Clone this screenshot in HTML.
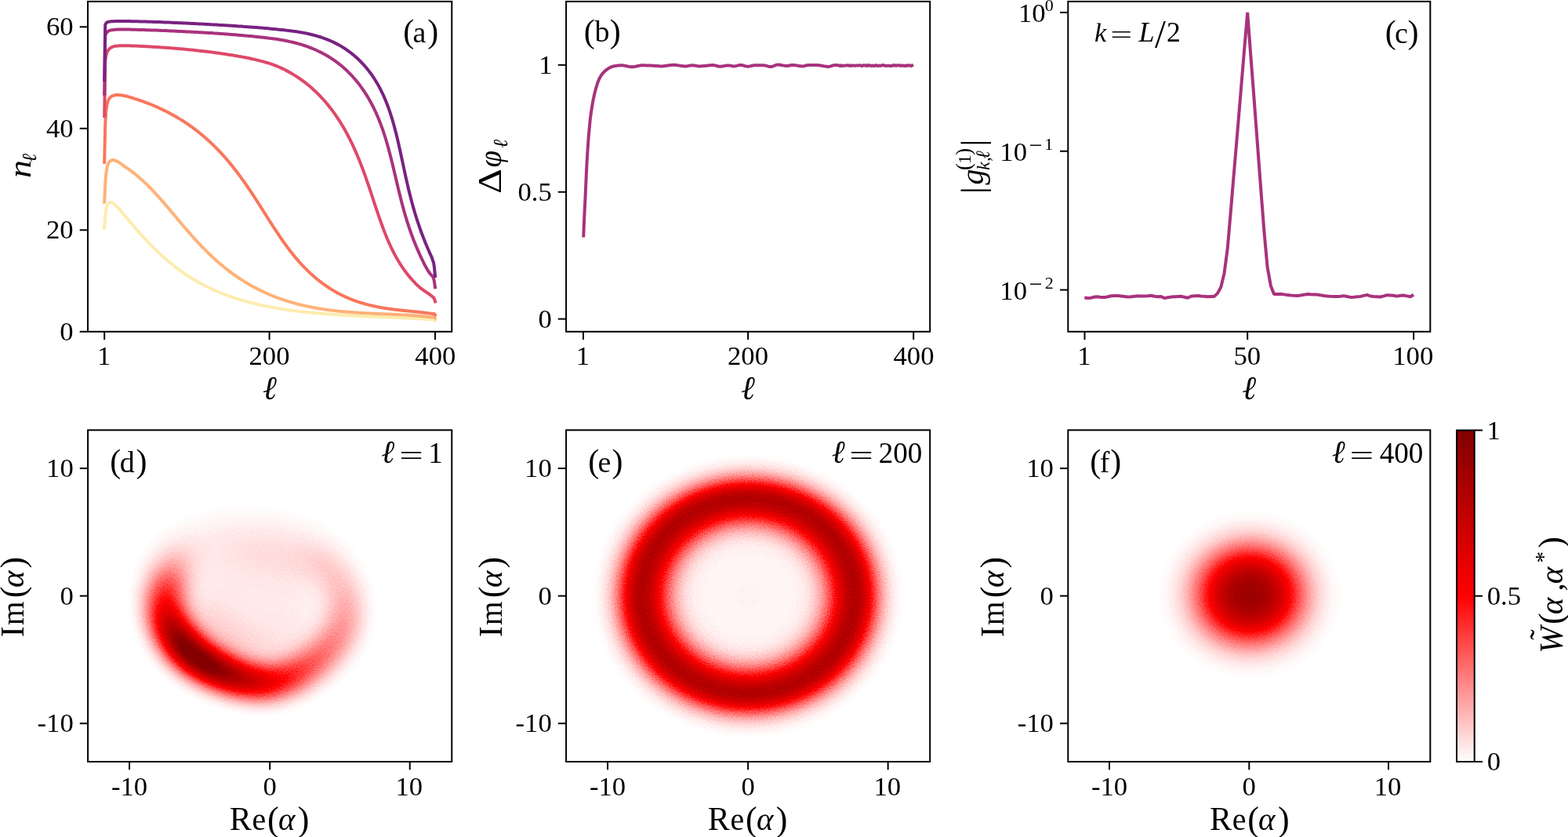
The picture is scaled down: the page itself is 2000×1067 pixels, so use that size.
<!DOCTYPE html>
<html lang="en"><head><meta charset="utf-8"><title>Figure</title>
<style>
html,body{margin:0;padding:0;background:#fff}
body{width:2000px;height:1067px;position:relative;overflow:hidden}
body>svg{position:absolute;left:0;top:0;display:block}
text{font-family:"Liberation Serif",serif;fill:#000;white-space:pre}
.i{font-style:italic}
.c{fill:none;stroke-width:4.00;stroke-linejoin:round;stroke-linecap:square}
.ax{fill:none;stroke:#000;stroke-width:2.00;stroke-linecap:butt;stroke-linejoin:miter}
</style></head><body>
<svg width="2000" height="1067" viewBox="0 0 2000 1067">
<defs>
<filter id="cmapE" color-interpolation-filters="sRGB" x="0" y="0" width="100%" height="100%">
<feColorMatrix in="SourceGraphic" type="matrix" values="1 0 0 0 0  1 0 0 0 0  1 0 0 0 0  0 0 0 0 1" result="g0"/>
<feTurbulence type="fractalNoise" baseFrequency="0.66 0.62" numOctaves="1" seed="11" result="nz"/>
<feColorMatrix in="nz" type="matrix" values="3 0 0 0 -1  3 0 0 0 -1  3 0 0 0 -1  0 0 0 0 1" result="n"/>
<feComponentTransfer in="g0" result="s"><feFuncR type="gamma" exponent="0.5"/><feFuncG type="gamma" exponent="0.5"/><feFuncB type="gamma" exponent="0.5"/></feComponentTransfer>
<feComposite in="g0" in2="s" operator="arithmetic" k1="0" k2="1" k3="-0.08" k4="0" result="w"/>
<feComposite in="s" in2="n" operator="arithmetic" k1="1" k2="0" k3="0" k4="0" result="u"/>
<feComposite in="w" in2="u" operator="arithmetic" k1="0" k2="1" k3="0.16" k4="0" result="v"/>
<feComponentTransfer in="v">
<feFuncR type="table" tableValues="1 1 1 0.75 0.5"/>
<feFuncG type="table" tableValues="1 0.5 0 0 0"/>
<feFuncB type="table" tableValues="1 0.5 0 0 0"/>
</feComponentTransfer>
</filter>
<filter id="cmapF" color-interpolation-filters="sRGB" x="0" y="0" width="100%" height="100%">
<feColorMatrix in="SourceGraphic" type="matrix" values="1 0 0 0 0  1 0 0 0 0  1 0 0 0 0  0 0 0 0 1" result="g0"/>
<feTurbulence type="fractalNoise" baseFrequency="0.6 0.56" numOctaves="1" seed="4" result="nz"/>
<feColorMatrix in="nz" type="matrix" values="2.6 0 0 0 -0.8  2.6 0 0 0 -0.8  2.6 0 0 0 -0.8  0 0 0 0 1" result="n"/>
<feComponentTransfer in="g0" result="s"><feFuncR type="gamma" exponent="0.5"/><feFuncG type="gamma" exponent="0.5"/><feFuncB type="gamma" exponent="0.5"/></feComponentTransfer>
<feComposite in="g0" in2="s" operator="arithmetic" k1="0" k2="1" k3="-0.05" k4="0" result="w"/>
<feComposite in="s" in2="n" operator="arithmetic" k1="1" k2="0" k3="0" k4="0" result="u"/>
<feComposite in="w" in2="u" operator="arithmetic" k1="0" k2="1" k3="0.1" k4="0" result="v"/>
<feComponentTransfer in="v">
<feFuncR type="table" tableValues="1 1 1 0.75 0.5"/>
<feFuncG type="table" tableValues="1 0.5 0 0 0"/>
<feFuncB type="table" tableValues="1 0.5 0 0 0"/>
</feComponentTransfer>
</filter>
<filter id="cmapD" color-interpolation-filters="sRGB" x="0" y="0" width="100%" height="100%">
<feColorMatrix in="SourceGraphic" type="matrix" values="1 0 0 0 0  1 0 0 0 0  1 0 0 0 0  0 0 0 0 1" result="cr"/>
<feGaussianBlur in="cr" stdDeviation="14.28 13.01" result="br"/>
<feColorMatrix in="SourceGraphic" type="matrix" values="0 1 0 0 0  0 1 0 0 0  0 1 0 0 0  0 0 0 0 1" result="cg"/>
<feGaussianBlur in="cg" stdDeviation="23.21 21.14" result="bg"/>
<feComposite in="br" in2="bg" operator="arithmetic" k1="0" k2="1.30" k3="0.50" k4="-0.008" result="g1"/>
<feColorMatrix in="g1" type="matrix" values="1 0 0 0 0  1 0 0 0 0  1 0 0 0 0  0 0 0 0 1" result="g0"/>
<feTurbulence type="fractalNoise" baseFrequency="0.63 0.59" numOctaves="1" seed="7" result="nz"/>
<feColorMatrix in="nz" type="matrix" values="2.8 0 0 0 -0.9  2.8 0 0 0 -0.9  2.8 0 0 0 -0.9  0 0 0 0 1" result="n"/>
<feComponentTransfer in="g0" result="s"><feFuncR type="gamma" exponent="0.5"/><feFuncG type="gamma" exponent="0.5"/><feFuncB type="gamma" exponent="0.5"/></feComponentTransfer>
<feComposite in="g0" in2="s" operator="arithmetic" k1="0" k2="1" k3="-0.065" k4="0" result="w"/>
<feComposite in="s" in2="n" operator="arithmetic" k1="1" k2="0" k3="0" k4="0" result="u"/>
<feComposite in="w" in2="u" operator="arithmetic" k1="0" k2="1" k3="0.13" k4="0" result="v"/>
<feComponentTransfer in="v">
<feFuncR type="table" tableValues="1 1 1 0.75 0.5"/>
<feFuncG type="table" tableValues="1 0.5 0 0 0"/>
<feFuncB type="table" tableValues="1 0.5 0 0 0"/>
</feComponentTransfer>
</filter>
<linearGradient id="cbar" x1="0" y1="1" x2="0" y2="0"><stop offset="0" stop-color="#fff"/><stop offset="0.5" stop-color="#f00"/><stop offset="1" stop-color="#800000"/></linearGradient>
<radialGradient id="gE" gradientUnits="userSpaceOnUse" cx="0" cy="0" r="13"><stop offset="0.0000" stop-color="#060606"/><stop offset="0.0125" stop-color="#060606"/><stop offset="0.0250" stop-color="#060606"/><stop offset="0.0375" stop-color="#060606"/><stop offset="0.0500" stop-color="#060606"/><stop offset="0.0625" stop-color="#060606"/><stop offset="0.0750" stop-color="#050505"/><stop offset="0.0875" stop-color="#050505"/><stop offset="0.1000" stop-color="#050505"/><stop offset="0.1125" stop-color="#050505"/><stop offset="0.1250" stop-color="#050505"/><stop offset="0.1375" stop-color="#050505"/><stop offset="0.1500" stop-color="#050505"/><stop offset="0.1625" stop-color="#050505"/><stop offset="0.1750" stop-color="#050505"/><stop offset="0.1875" stop-color="#050505"/><stop offset="0.2000" stop-color="#050505"/><stop offset="0.2125" stop-color="#050505"/><stop offset="0.2250" stop-color="#050505"/><stop offset="0.2375" stop-color="#050505"/><stop offset="0.2500" stop-color="#060606"/><stop offset="0.2625" stop-color="#060606"/><stop offset="0.2750" stop-color="#070707"/><stop offset="0.2875" stop-color="#080808"/><stop offset="0.3000" stop-color="#090909"/><stop offset="0.3125" stop-color="#0b0b0b"/><stop offset="0.3250" stop-color="#0d0d0d"/><stop offset="0.3375" stop-color="#101010"/><stop offset="0.3500" stop-color="#141414"/><stop offset="0.3625" stop-color="#191919"/><stop offset="0.3750" stop-color="#1f1f1f"/><stop offset="0.3875" stop-color="#262626"/><stop offset="0.4000" stop-color="#2e2e2e"/><stop offset="0.4125" stop-color="#373737"/><stop offset="0.4250" stop-color="#424242"/><stop offset="0.4375" stop-color="#4e4e4e"/><stop offset="0.4500" stop-color="#5a5a5a"/><stop offset="0.4625" stop-color="#686868"/><stop offset="0.4750" stop-color="#767676"/><stop offset="0.4875" stop-color="#848484"/><stop offset="0.5000" stop-color="#929292"/><stop offset="0.5125" stop-color="#9f9f9f"/><stop offset="0.5250" stop-color="#acacac"/><stop offset="0.5375" stop-color="#b7b7b7"/><stop offset="0.5500" stop-color="#c0c0c0"/><stop offset="0.5625" stop-color="#c6c6c6"/><stop offset="0.5750" stop-color="#cbcbcb"/><stop offset="0.5875" stop-color="#cccccc"/><stop offset="0.6000" stop-color="#cbcbcb"/><stop offset="0.6125" stop-color="#c5c5c5"/><stop offset="0.6250" stop-color="#bcbcbc"/><stop offset="0.6375" stop-color="#afafaf"/><stop offset="0.6500" stop-color="#a0a0a0"/><stop offset="0.6625" stop-color="#909090"/><stop offset="0.6750" stop-color="#7e7e7e"/><stop offset="0.6875" stop-color="#6c6c6c"/><stop offset="0.7000" stop-color="#5b5b5b"/><stop offset="0.7125" stop-color="#4b4b4b"/><stop offset="0.7250" stop-color="#3d3d3d"/><stop offset="0.7375" stop-color="#303030"/><stop offset="0.7500" stop-color="#252525"/><stop offset="0.7625" stop-color="#1c1c1c"/><stop offset="0.7750" stop-color="#151515"/><stop offset="0.7875" stop-color="#0f0f0f"/><stop offset="0.8000" stop-color="#0a0a0a"/><stop offset="0.8125" stop-color="#070707"/><stop offset="0.8250" stop-color="#040404"/><stop offset="0.8375" stop-color="#020202"/><stop offset="0.8500" stop-color="#010101"/><stop offset="0.8625" stop-color="#000000"/><stop offset="0.8750" stop-color="#000000"/><stop offset="0.8875" stop-color="#000000"/><stop offset="0.9000" stop-color="#000000"/><stop offset="0.9125" stop-color="#000000"/><stop offset="0.9250" stop-color="#000000"/><stop offset="0.9375" stop-color="#000000"/><stop offset="0.9500" stop-color="#000000"/><stop offset="0.9625" stop-color="#000000"/><stop offset="0.9750" stop-color="#000000"/><stop offset="0.9875" stop-color="#000000"/><stop offset="1.0000" stop-color="#000000"/></radialGradient>
<radialGradient id="gF" gradientUnits="userSpaceOnUse" cx="0" cy="0" r="13"><stop offset="0.0000" stop-color="#e1e1e1"/><stop offset="0.0156" stop-color="#e1e1e1"/><stop offset="0.0312" stop-color="#e0e0e0"/><stop offset="0.0469" stop-color="#dfdfdf"/><stop offset="0.0625" stop-color="#dcdcdc"/><stop offset="0.0781" stop-color="#d9d9d9"/><stop offset="0.0938" stop-color="#d4d4d4"/><stop offset="0.1094" stop-color="#cecece"/><stop offset="0.1250" stop-color="#c7c7c7"/><stop offset="0.1406" stop-color="#bebebe"/><stop offset="0.1562" stop-color="#b4b4b4"/><stop offset="0.1719" stop-color="#aaaaaa"/><stop offset="0.1875" stop-color="#9e9e9e"/><stop offset="0.2031" stop-color="#919191"/><stop offset="0.2188" stop-color="#858585"/><stop offset="0.2344" stop-color="#777777"/><stop offset="0.2500" stop-color="#6a6a6a"/><stop offset="0.2656" stop-color="#5d5d5d"/><stop offset="0.2812" stop-color="#515151"/><stop offset="0.2969" stop-color="#454545"/><stop offset="0.3125" stop-color="#3b3b3b"/><stop offset="0.3281" stop-color="#313131"/><stop offset="0.3438" stop-color="#282828"/><stop offset="0.3594" stop-color="#202020"/><stop offset="0.3750" stop-color="#191919"/><stop offset="0.3906" stop-color="#131313"/><stop offset="0.4062" stop-color="#0f0f0f"/><stop offset="0.4219" stop-color="#0b0b0b"/><stop offset="0.4375" stop-color="#080808"/><stop offset="0.4531" stop-color="#050505"/><stop offset="0.4688" stop-color="#030303"/><stop offset="0.4844" stop-color="#020202"/><stop offset="0.5000" stop-color="#010101"/><stop offset="0.5156" stop-color="#000000"/><stop offset="0.5312" stop-color="#000000"/><stop offset="0.5469" stop-color="#000000"/><stop offset="0.5625" stop-color="#000000"/><stop offset="0.5781" stop-color="#000000"/><stop offset="0.5938" stop-color="#000000"/><stop offset="0.6094" stop-color="#000000"/><stop offset="0.6250" stop-color="#000000"/><stop offset="0.6406" stop-color="#000000"/><stop offset="0.6562" stop-color="#000000"/><stop offset="0.6719" stop-color="#000000"/><stop offset="0.6875" stop-color="#000000"/><stop offset="0.7031" stop-color="#000000"/><stop offset="0.7188" stop-color="#000000"/><stop offset="0.7344" stop-color="#000000"/><stop offset="0.7500" stop-color="#000000"/><stop offset="0.7656" stop-color="#000000"/><stop offset="0.7812" stop-color="#000000"/><stop offset="0.7969" stop-color="#000000"/><stop offset="0.8125" stop-color="#000000"/><stop offset="0.8281" stop-color="#000000"/><stop offset="0.8438" stop-color="#000000"/><stop offset="0.8594" stop-color="#000000"/><stop offset="0.8750" stop-color="#000000"/><stop offset="0.8906" stop-color="#000000"/><stop offset="0.9062" stop-color="#000000"/><stop offset="0.9219" stop-color="#000000"/><stop offset="0.9375" stop-color="#000000"/><stop offset="0.9531" stop-color="#000000"/><stop offset="0.9688" stop-color="#000000"/><stop offset="0.9844" stop-color="#000000"/><stop offset="1.0000" stop-color="#000000"/></radialGradient>
</defs>
<svg x="112.10" y="548.30" width="464.20" height="422.70" viewBox="112.10 548.30 464.20 422.70" overflow="hidden"><g filter="url(#cmapD)"><rect x="42.10" y="478.30" width="604.20" height="562.70" fill="#000"/><g transform="translate(344.200,759.650) scale(17.8538,-16.2577)"><g fill="none" stroke-width="2.00" style="mix-blend-mode:screen"><path d="M-5.36,4.50L-5.77,4.14" stroke="#010000"/><path d="M-5.74,4.17L-6.10,3.77" stroke="#050000"/><path d="M-6.08,3.80L-6.40,3.36" stroke="#0a0000"/><path d="M-6.38,3.39L-6.66,2.92" stroke="#100000"/><path d="M-6.64,2.96L-6.87,2.46" stroke="#190000"/><path d="M-6.86,2.50L-7.05,1.98" stroke="#250000"/><path d="M-7.04,2.02L-7.19,1.49" stroke="#380000"/><path d="M-7.18,1.53L-7.32,0.99" stroke="#4a0000"/><path d="M-7.31,1.03L-7.44,0.48" stroke="#580000"/><path d="M-7.43,0.52L-7.52,-0.04" stroke="#660000"/><path d="M-7.52,0.00L-7.56,-0.57" stroke="#730000"/><path d="M-7.56,-0.53L-7.52,-1.10" stroke="#810000"/><path d="M-7.53,-1.06L-7.41,-1.62" stroke="#910000"/><path d="M-7.42,-1.58L-7.24,-2.12" stroke="#a40000"/><path d="M-7.26,-2.08L-7.03,-2.60" stroke="#b70000"/><path d="M-7.05,-2.57L-6.79,-3.07" stroke="#c80000"/><path d="M-6.81,-3.03L-6.52,-3.51" stroke="#d80000"/><path d="M-6.54,-3.48L-6.20,-3.92" stroke="#e80000"/><path d="M-6.23,-3.89L-5.87,-4.31" stroke="#f30000"/><path d="M-5.90,-4.28L-5.52,-4.68" stroke="#f60000"/><path d="M-5.54,-4.65L-5.14,-5.01" stroke="#f80000"/><path d="M-5.17,-4.99L-4.73,-5.31" stroke="#f80000"/><path d="M-4.76,-5.29L-4.29,-5.55" stroke="#f20000"/><path d="M-4.32,-5.53L-3.86,-5.79" stroke="#e80000"/><path d="M-3.89,-5.77L-3.44,-6.02" stroke="#dd0000"/><path d="M-3.47,-6.01L-3.00,-6.24" stroke="#d30000"/><path d="M-3.04,-6.22L-2.56,-6.43" stroke="#c70000"/><path d="M-2.59,-6.41L-2.10,-6.58" stroke="#bc0000"/><path d="M-2.13,-6.57L-1.63,-6.70" stroke="#b10000"/><path d="M-1.67,-6.69L-1.16,-6.79" stroke="#a70000"/><path d="M-1.20,-6.78L-0.68,-6.84" stroke="#9e0000"/><path d="M-0.72,-6.84L-0.20,-6.86" stroke="#950000"/><path d="M-0.24,-6.86L0.27,-6.83" stroke="#8b0000"/><path d="M0.24,-6.84L0.74,-6.71" stroke="#810000"/><path d="M0.71,-6.72L1.18,-6.52" stroke="#750000"/><path d="M1.15,-6.54L1.61,-6.31" stroke="#6b0000"/><path d="M1.58,-6.33L2.01,-6.08" stroke="#620000"/><path d="M1.98,-6.10L2.39,-5.83" stroke="#5b0000"/><path d="M2.36,-5.85L2.74,-5.55" stroke="#540000"/><path d="M2.72,-5.57L3.08,-5.28" stroke="#4e0000"/><path d="M3.06,-5.30L3.41,-5.00" stroke="#4a0000"/><path d="M3.39,-5.02L3.72,-4.71" stroke="#460000"/><path d="M3.70,-4.73L4.01,-4.41" stroke="#420000"/><path d="M3.99,-4.43L4.28,-4.09" stroke="#3f0000"/><path d="M4.26,-4.11L4.52,-3.75" stroke="#3c0000"/><path d="M4.51,-3.78L4.74,-3.41" stroke="#3a0000"/><path d="M4.72,-3.43L4.93,-3.05" stroke="#370000"/><path d="M4.92,-3.07L5.10,-2.68" stroke="#350000"/><path d="M5.09,-2.70L5.23,-2.30" stroke="#330000"/><path d="M5.22,-2.33L5.34,-1.91" stroke="#310000"/><path d="M5.33,-1.94L5.41,-1.52" stroke="#2f0000"/><path d="M5.41,-1.55L5.44,-1.13" stroke="#2d0000"/><path d="M5.44,-1.16L5.44,-0.74" stroke="#2a0000"/><path d="M5.44,-0.76L5.41,-0.35" stroke="#270000"/><path d="M5.41,-0.38L5.34,0.03" stroke="#240000"/><path d="M5.35,-0.00L5.25,0.40" stroke="#220000"/><path d="M5.26,0.37L5.14,0.75" stroke="#1f0000"/><path d="M5.15,0.72L4.99,1.09" stroke="#1c0000"/><path d="M5.01,1.06L4.83,1.41" stroke="#1a0000"/><path d="M4.84,1.39L4.64,1.72" stroke="#180000"/><path d="M4.65,1.69L4.42,2.00" stroke="#150000"/><path d="M4.44,1.98L4.19,2.26" stroke="#130000"/><path d="M4.21,2.24L3.94,2.49" stroke="#110000"/><path d="M3.96,2.47L3.69,2.71" stroke="#100000"/><path d="M3.70,2.69L3.43,2.91" stroke="#0e0000"/><path d="M3.45,2.89L3.17,3.09" stroke="#0b0000"/><path d="M3.19,3.08L2.90,3.25" stroke="#090000"/><path d="M2.92,3.24L2.63,3.40" stroke="#070000"/><path d="M2.65,3.39L2.36,3.53" stroke="#040000"/><path d="M2.38,3.52L2.08,3.65" stroke="#010000"/></g><g fill="none" stroke-width="3.25" style="mix-blend-mode:screen"><path d="M4.92,0.87L4.72,1.20" stroke="#000300"/><path d="M4.74,1.18L4.52,1.50" stroke="#000900"/><path d="M4.54,1.48L4.32,1.77" stroke="#000f00"/><path d="M4.33,1.75L4.10,2.03" stroke="#001400"/><path d="M4.12,2.01L3.88,2.27" stroke="#001800"/><path d="M3.90,2.25L3.65,2.49" stroke="#001c00"/><path d="M3.67,2.48L3.42,2.70" stroke="#001f00"/><path d="M3.44,2.68L3.18,2.89" stroke="#002200"/><path d="M3.20,2.88L2.93,3.07" stroke="#002500"/><path d="M2.95,3.05L2.68,3.23" stroke="#002700"/><path d="M2.70,3.22L2.42,3.37" stroke="#002700"/><path d="M2.44,3.36L2.16,3.49" stroke="#002700"/><path d="M2.18,3.49L1.89,3.60" stroke="#002700"/><path d="M1.91,3.59L1.62,3.69" stroke="#002700"/><path d="M1.64,3.68L1.35,3.77" stroke="#002700"/><path d="M1.37,3.77L1.08,3.85" stroke="#002700"/><path d="M1.10,3.85L0.81,3.93" stroke="#002700"/><path d="M0.83,3.92L0.54,3.99" stroke="#002700"/><path d="M0.56,3.99L0.26,4.06" stroke="#002600"/><path d="M0.28,4.05L-0.02,4.11" stroke="#002600"/><path d="M0.00,4.11L-0.31,4.15" stroke="#002500"/><path d="M-0.29,4.15L-0.61,4.18" stroke="#002500"/><path d="M-0.59,4.18L-0.91,4.19" stroke="#002400"/><path d="M-0.89,4.19L-1.23,4.20" stroke="#002300"/><path d="M-1.20,4.20L-1.56,4.22" stroke="#002300"/><path d="M-1.54,4.22L-1.92,4.25" stroke="#002200"/><path d="M-1.89,4.25L-2.30,4.27" stroke="#002100"/><path d="M-2.27,4.27L-2.70,4.27" stroke="#002100"/><path d="M-2.67,4.27L-3.12,4.25" stroke="#002000"/><path d="M-3.09,4.25L-3.60,4.25" stroke="#002000"/><path d="M-3.57,4.25L-4.12,4.22" stroke="#002000"/><path d="M-4.08,4.23L-4.63,4.12" stroke="#002000"/><path d="M-4.59,4.14L-5.08,3.92" stroke="#002000"/><path d="M-5.04,3.94L-5.49,3.66" stroke="#002000"/><path d="M-5.46,3.68L-5.87,3.35" stroke="#001f00"/><path d="M-5.84,3.37L-6.20,2.98" stroke="#001e00"/><path d="M-6.18,3.01L-6.49,2.58" stroke="#001d00"/><path d="M-6.47,2.61L-6.73,2.15" stroke="#001b00"/><path d="M-6.71,2.18L-6.94,1.69" stroke="#001800"/><path d="M-6.92,1.73L-7.10,1.21" stroke="#001500"/><path d="M-7.09,1.25L-7.23,0.72" stroke="#001200"/><path d="M-7.22,0.76L-7.32,0.22" stroke="#000d00"/><path d="M-7.31,0.26L-7.37,-0.30" stroke="#000800"/><path d="M-7.36,-0.26L-7.37,-0.68" stroke="#000200"/></g><g fill="none" stroke-width="3.25" style="mix-blend-mode:screen"><path d="M-5.81,1.02L-5.92,0.59" stroke="#000400"/><path d="M-5.91,0.62L-5.97,0.18" stroke="#000b00"/><path d="M-5.97,0.21L-5.99,-0.24" stroke="#001200"/><path d="M-5.99,-0.21L-5.96,-0.66" stroke="#001900"/><path d="M-5.97,-0.63L-5.90,-1.07" stroke="#002000"/><path d="M-5.91,-1.04L-5.79,-1.48" stroke="#002800"/><path d="M-5.80,-1.45L-5.64,-1.87" stroke="#003000"/><path d="M-5.65,-1.84L-5.46,-2.24" stroke="#003600"/><path d="M-5.48,-2.21L-5.26,-2.60" stroke="#003b00"/><path d="M-5.28,-2.57L-5.03,-2.94" stroke="#003f00"/><path d="M-5.05,-2.92L-4.78,-3.26" stroke="#004300"/><path d="M-4.80,-3.23L-4.50,-3.55" stroke="#004600"/><path d="M-4.52,-3.53L-4.20,-3.83" stroke="#004700"/><path d="M-4.23,-3.81L-3.89,-4.07" stroke="#004700"/><path d="M-3.91,-4.05L-3.56,-4.29" stroke="#004500"/><path d="M-3.59,-4.27L-3.22,-4.49" stroke="#004300"/><path d="M-3.25,-4.47L-2.89,-4.67" stroke="#004100"/><path d="M-2.91,-4.66L-2.54,-4.84" stroke="#003f00"/><path d="M-2.57,-4.83L-2.19,-4.99" stroke="#003c00"/><path d="M-2.22,-4.97L-1.83,-5.11" stroke="#003900"/><path d="M-1.86,-5.10L-1.46,-5.20" stroke="#003600"/><path d="M-1.49,-5.20L-1.09,-5.27" stroke="#003300"/><path d="M-1.12,-5.27L-0.72,-5.31" stroke="#003000"/><path d="M-0.75,-5.31L-0.34,-5.32" stroke="#002c00"/><path d="M-0.37,-5.32L0.03,-5.31" stroke="#002900"/><path d="M-0.00,-5.31L0.39,-5.25" stroke="#002600"/><path d="M0.37,-5.25L0.75,-5.15" stroke="#002300"/><path d="M0.72,-5.16L1.09,-5.01" stroke="#002000"/><path d="M1.07,-5.02L1.42,-4.86" stroke="#001d00"/><path d="M1.40,-4.87L1.73,-4.69" stroke="#001b00"/><path d="M1.71,-4.70L2.03,-4.50" stroke="#001900"/><path d="M2.01,-4.51L2.31,-4.30" stroke="#001700"/><path d="M2.29,-4.31L2.58,-4.08" stroke="#001500"/><path d="M2.56,-4.10L2.82,-3.84" stroke="#001400"/><path d="M2.81,-3.86L3.05,-3.60" stroke="#001200"/><path d="M3.04,-3.62L3.26,-3.34" stroke="#001100"/><path d="M3.24,-3.36L3.45,-3.07" stroke="#000f00"/><path d="M3.44,-3.09L3.62,-2.80" stroke="#000d00"/><path d="M3.61,-2.82L3.77,-2.51" stroke="#000b00"/><path d="M3.76,-2.54L3.90,-2.22" stroke="#000800"/><path d="M3.89,-2.25L4.01,-1.93" stroke="#000600"/><path d="M4.00,-1.95L4.10,-1.63" stroke="#000300"/></g><circle cx="-0.70" cy="-0.40" r="4.20" fill="#001800" style="mix-blend-mode:screen"/></g></g></svg>
<svg x="722.10" y="548.30" width="464.10" height="422.70" viewBox="722.10 548.30 464.10 422.70" overflow="hidden"><g filter="url(#cmapE)"><rect x="652.10" y="478.30" width="604.10" height="562.70" fill="#000"/><g transform="translate(954.150,759.650) scale(17.8500,-16.2577)"><circle cx="0" cy="0" r="13" fill="url(#gE)"/></g></g></svg>
<svg x="1362.30" y="548.30" width="462.00" height="422.70" viewBox="1362.30 548.30 462.00 422.70" overflow="hidden"><g filter="url(#cmapF)"><rect x="1292.30" y="478.30" width="602.00" height="562.70" fill="#000"/><g transform="translate(1593.833,758.024) scale(17.7692,-16.2577)"><circle cx="0" cy="0" r="13" fill="url(#gF)"/></g></g></svg>
<path class="c" stroke="#fcecae" d="M133.1,290.7L134.2,276.0L134.7,270.7L135.2,267.0L135.7,265.0L136.2,263.3L136.7,261.9L137.2,260.8L137.7,260.0L138.2,259.5L138.7,259.2L139.2,258.9L139.7,258.6L140.2,258.4L140.7,258.2L141.2,258.1L141.7,258.0L142.2,258.0L142.7,258.1L143.2,258.3L143.7,258.6L144.2,259.0L144.7,259.4L145.2,259.9L145.7,260.3L146.2,260.8L146.7,261.2L147.2,261.6L147.7,262.0L148.2,262.5L148.7,263.0L149.2,263.5L149.7,264.0L150.2,264.5L150.7,265.0L151.2,265.6L151.7,266.1L152.2,266.7L152.7,267.2L153.2,267.8L153.7,268.4L154.2,269.0L154.7,269.6L155.2,270.2L155.7,270.8L156.2,271.4L156.7,272.0L157.2,272.6L157.7,273.2L158.2,273.8L158.7,274.3L159.2,274.9L159.7,275.5L160.0,275.9L162.0,278.3L164.0,280.6L166.0,283.0L168.0,285.3L170.0,287.7L172.0,290.0L174.0,292.3L176.0,294.6L178.0,296.8L180.0,299.0L182.0,301.2L184.0,303.4L186.0,305.6L188.0,307.7L190.0,309.8L192.0,311.9L194.0,313.9L196.0,315.9L198.0,317.9L200.0,319.8L202.0,321.7L204.0,323.6L206.0,325.5L208.0,327.3L210.0,329.0L212.0,330.8L214.0,332.5L216.0,334.2L218.0,335.8L220.0,337.4L222.0,339.0L224.0,340.6L226.0,342.1L228.0,343.6L230.0,345.0L232.0,346.5L234.0,347.9L236.0,349.2L238.0,350.6L240.0,351.9L242.0,353.2L244.0,354.4L246.0,355.6L248.0,356.8L250.0,358.0L252.0,359.2L254.0,360.3L256.0,361.4L258.0,362.4L260.0,363.5L262.0,364.5L264.0,365.5L266.0,366.5L268.0,367.4L270.0,368.4L272.0,369.3L274.0,370.2L276.0,371.0L278.0,371.9L280.0,372.7L282.0,373.5L284.0,374.3L286.0,375.1L288.0,375.9L290.0,376.6L292.0,377.3L294.0,378.0L296.0,378.7L298.0,379.4L300.0,380.0L302.0,380.7L304.0,381.3L306.0,381.9L308.0,382.5L310.0,383.1L312.0,383.7L314.0,384.2L316.0,384.8L318.0,385.3L320.0,385.8L322.0,386.3L324.0,386.8L326.0,387.3L328.0,387.8L330.0,388.2L332.0,388.7L334.0,389.1L336.0,389.5L338.0,390.0L340.0,390.4L342.0,390.8L344.0,391.2L346.0,391.5L348.0,391.9L350.0,392.3L352.0,392.6L354.0,393.0L356.0,393.3L358.0,393.6L360.0,394.0L362.0,394.3L364.0,394.6L366.0,394.9L368.0,395.2L370.0,395.4L372.0,395.7L374.0,396.0L376.0,396.3L378.0,396.5L380.0,396.8L382.0,397.0L384.0,397.2L386.0,397.5L388.0,397.7L390.0,397.9L392.0,398.1L394.0,398.3L396.0,398.5L398.0,398.7L400.0,398.9L402.0,399.1L404.0,399.3L406.0,399.5L408.0,399.6L410.0,399.8L412.0,400.0L414.0,400.1L416.0,400.3L418.0,400.4L420.0,400.6L421.0,400.7L422.0,400.7L423.0,400.8L424.0,400.9L425.0,400.9L426.0,401.0L427.0,401.1L428.0,401.1L429.0,401.2L430.0,401.3L431.0,401.3L432.0,401.4L433.0,401.5L434.0,401.5L435.0,401.6L436.0,401.6L437.0,401.7L438.0,401.8L439.0,401.8L440.0,401.9L441.0,401.9L442.0,402.0L443.0,402.0L444.0,402.1L445.0,402.1L446.0,402.2L447.0,402.3L448.0,402.3L449.0,402.4L450.0,402.4L451.0,402.5L452.0,402.5L453.0,402.6L454.0,402.6L455.0,402.7L456.0,402.7L457.0,402.8L458.0,402.8L459.0,402.9L460.0,402.9L461.0,402.9L462.0,403.0L463.0,403.0L464.0,403.1L465.0,403.1L466.0,403.2L467.0,403.2L468.0,403.3L469.0,403.3L470.0,403.4L471.0,403.4L472.0,403.4L473.0,403.5L474.0,403.5L475.0,403.6L476.0,403.6L477.0,403.7L478.0,403.7L479.0,403.7L480.0,403.8L481.0,403.8L482.0,403.9L483.0,403.9L484.0,404.0L485.0,404.0L486.0,404.0L487.0,404.1L488.0,404.1L489.0,404.2L490.0,404.2L491.0,404.3L492.0,404.3L493.0,404.3L494.0,404.4L495.0,404.4L496.0,404.5L497.0,404.5L498.0,404.6L499.0,404.6L500.0,404.6L501.0,404.7L502.0,404.7L503.0,404.8L504.0,404.8L505.0,404.9L506.0,404.9L507.0,404.9L508.0,405.0L509.0,405.0L510.0,405.1L511.0,405.1L512.0,405.2L513.0,405.2L514.0,405.3L515.0,405.3L516.0,405.4L517.0,405.4L518.0,405.5L519.0,405.5L520.0,405.5L521.0,405.6L522.0,405.6L523.0,405.7L524.0,405.7L525.0,405.8L526.0,405.8L527.0,405.9L528.0,406.0L529.0,406.0L530.0,406.1L531.0,406.1L532.0,406.2L533.0,406.2L534.0,406.3L535.0,406.3L536.0,406.4L537.0,406.4L538.0,406.5L539.0,406.6L540.0,406.6L541.0,406.7L542.0,406.7L543.0,406.8L544.0,406.9L545.0,406.9L546.0,407.0L547.0,407.0L548.0,407.1L549.0,407.1L550.0,407.2L551.0,407.2L552.0,407.2L553.0,407.3L553.9,407.3L555.0,408.4"/>
<path class="c" stroke="#feb279" d="M133.1,257.7L134.2,236.0L134.7,227.9L135.2,222.0L135.7,218.3L136.2,215.2L136.7,212.7L137.2,210.9L137.7,209.5L138.2,208.4L138.7,207.4L139.2,206.6L139.7,205.9L140.2,205.4L140.7,205.1L141.2,204.8L141.7,204.6L142.2,204.4L142.7,204.2L143.2,204.1L143.7,204.0L144.2,204.0L144.7,204.0L145.2,204.1L145.7,204.2L146.2,204.4L146.7,204.6L147.2,204.8L147.7,205.0L148.2,205.2L148.7,205.4L149.2,205.7L149.7,205.9L150.2,206.1L150.7,206.4L151.2,206.7L151.7,207.0L152.2,207.3L152.7,207.6L153.2,208.0L153.7,208.3L154.2,208.7L154.7,209.1L155.2,209.4L155.7,209.8L156.2,210.2L156.7,210.6L157.2,211.0L157.7,211.3L158.2,211.7L158.7,212.1L159.2,212.4L159.7,212.8L160.0,213.0L162.0,214.3L164.0,215.7L166.0,217.1L168.0,218.6L170.0,220.1L172.0,221.7L174.0,223.3L176.0,225.0L178.0,226.7L180.0,228.4L182.0,230.2L184.0,232.1L186.0,234.0L188.0,235.9L190.0,237.9L192.0,239.9L194.0,242.0L196.0,244.1L198.0,246.3L200.0,248.4L202.0,250.7L204.0,252.9L206.0,255.2L208.0,257.4L210.0,259.8L212.0,262.1L214.0,264.4L216.0,266.8L218.0,269.2L220.0,271.5L222.0,273.9L224.0,276.3L226.0,278.7L228.0,281.1L230.0,283.5L232.0,285.8L234.0,288.2L236.0,290.5L238.0,292.8L240.0,295.1L242.0,297.4L244.0,299.7L246.0,301.9L248.0,304.2L250.0,306.4L252.0,308.5L254.0,310.7L256.0,312.8L258.0,314.9L260.0,316.9L262.0,318.9L264.0,320.9L266.0,322.9L268.0,324.8L270.0,326.7L272.0,328.6L274.0,330.4L276.0,332.2L278.0,333.9L280.0,335.7L282.0,337.4L284.0,339.0L286.0,340.7L288.0,342.3L290.0,343.8L292.0,345.4L294.0,346.9L296.0,348.4L298.0,349.8L300.0,351.2L302.0,352.6L304.0,354.0L306.0,355.3L308.0,356.6L310.0,357.9L312.0,359.1L314.0,360.3L316.0,361.5L318.0,362.7L320.0,363.8L322.0,364.9L324.0,366.0L326.0,367.1L328.0,368.1L330.0,369.1L332.0,370.1L334.0,371.1L336.0,372.0L338.0,373.0L340.0,373.9L342.0,374.7L344.0,375.6L346.0,376.4L348.0,377.3L350.0,378.0L352.0,378.8L354.0,379.6L356.0,380.3L358.0,381.0L360.0,381.7L362.0,382.4L364.0,383.0L366.0,383.7L368.0,384.3L370.0,384.9L372.0,385.5L374.0,386.1L376.0,386.6L378.0,387.2L380.0,387.7L382.0,388.2L384.0,388.7L386.0,389.2L388.0,389.6L390.0,390.1L392.0,390.5L394.0,390.9L396.0,391.3L398.0,391.7L400.0,392.1L402.0,392.5L404.0,392.8L406.0,393.2L408.0,393.5L410.0,393.8L412.0,394.1L414.0,394.4L416.0,394.7L418.0,395.0L420.0,395.2L421.0,395.4L422.0,395.5L423.0,395.6L424.0,395.8L425.0,395.9L426.0,396.0L427.0,396.1L428.0,396.2L429.0,396.3L430.0,396.4L431.0,396.5L432.0,396.6L433.0,396.8L434.0,396.9L435.0,397.0L436.0,397.0L437.0,397.1L438.0,397.2L439.0,397.3L440.0,397.4L441.0,397.5L442.0,397.6L443.0,397.7L444.0,397.8L445.0,397.8L446.0,397.9L447.0,398.0L448.0,398.1L449.0,398.1L450.0,398.2L451.0,398.3L452.0,398.4L453.0,398.4L454.0,398.5L455.0,398.6L456.0,398.6L457.0,398.7L458.0,398.7L459.0,398.8L460.0,398.9L461.0,398.9L462.0,399.0L463.0,399.0L464.0,399.1L465.0,399.2L466.0,399.2L467.0,399.3L468.0,399.3L469.0,399.4L470.0,399.4L471.0,399.5L472.0,399.5L473.0,399.6L474.0,399.6L475.0,399.7L476.0,399.7L477.0,399.7L478.0,399.8L479.0,399.8L480.0,399.9L481.0,399.9L482.0,400.0L483.0,400.0L484.0,400.0L485.0,400.1L486.0,400.1L487.0,400.2L488.0,400.2L489.0,400.3L490.0,400.3L491.0,400.3L492.0,400.4L493.0,400.4L494.0,400.5L495.0,400.5L496.0,400.5L497.0,400.6L498.0,400.6L499.0,400.7L500.0,400.7L501.0,400.8L502.0,400.8L503.0,400.8L504.0,400.9L505.0,400.9L506.0,401.0L507.0,401.0L508.0,401.1L509.0,401.1L510.0,401.2L511.0,401.2L512.0,401.3L513.0,401.3L514.0,401.4L515.0,401.4L516.0,401.5L517.0,401.5L518.0,401.6L519.0,401.6L520.0,401.7L521.0,401.8L522.0,401.8L523.0,401.9L524.0,402.0L525.0,402.0L526.0,402.1L527.0,402.2L528.0,402.2L529.0,402.3L530.0,402.4L531.0,402.4L532.0,402.5L533.0,402.6L534.0,402.7L535.0,402.8L536.0,402.9L537.0,402.9L538.0,403.0L539.0,403.1L540.0,403.2L541.0,403.3L542.0,403.4L543.0,403.5L544.0,403.6L545.0,403.8L546.0,403.9L547.0,403.9L548.0,404.0L549.0,404.1L550.0,404.2L551.0,404.2L552.0,404.3L553.0,404.3L553.9,404.3L555.0,405.4"/>
<path class="c" stroke="#f8775c" d="M133.2,206.7L134.2,160.0L134.7,150.1L135.2,142.6L135.7,138.7L136.2,135.4L136.7,132.7L137.2,130.6L137.7,128.9L138.2,127.7L138.7,126.8L139.2,126.0L139.7,125.3L140.2,124.7L140.7,124.1L141.2,123.6L141.7,123.2L142.2,122.9L142.7,122.6L143.2,122.4L143.7,122.2L144.2,122.0L144.7,121.9L145.2,121.7L145.7,121.6L146.2,121.4L146.7,121.3L147.2,121.2L147.7,121.1L148.2,121.1L148.7,121.0L149.2,121.0L149.7,121.0L150.2,121.0L150.7,121.0L151.2,121.1L151.7,121.1L152.2,121.1L152.7,121.2L153.2,121.2L153.7,121.3L154.2,121.3L154.7,121.4L155.2,121.5L155.7,121.6L156.2,121.6L156.7,121.7L157.2,121.8L157.7,121.9L158.2,122.0L158.7,122.1L159.2,122.2L159.7,122.2L160.0,122.3L162.0,122.8L164.0,123.4L166.0,124.0L168.0,124.6L170.0,125.2L172.0,125.9L174.0,126.5L176.0,127.2L178.0,127.8L180.0,128.5L182.0,129.2L184.0,130.0L186.0,130.7L188.0,131.5L190.0,132.2L192.0,133.0L194.0,133.8L196.0,134.7L198.0,135.5L200.0,136.4L202.0,137.3L204.0,138.2L206.0,139.1L208.0,140.1L210.0,141.1L212.0,142.0L214.0,143.1L216.0,144.1L218.0,145.2L220.0,146.3L222.0,147.4L224.0,148.5L226.0,149.7L228.0,150.9L230.0,152.1L232.0,153.3L234.0,154.6L236.0,155.9L238.0,157.2L240.0,158.6L242.0,160.0L244.0,161.4L246.0,162.8L248.0,164.3L250.0,165.8L252.0,167.4L254.0,169.0L256.0,170.6L258.0,172.2L260.0,173.9L262.0,175.7L264.0,177.4L266.0,179.2L268.0,181.1L270.0,183.0L272.0,184.9L274.0,186.8L276.0,188.8L278.0,190.9L280.0,193.0L282.0,195.1L284.0,197.3L286.0,199.5L288.0,201.8L290.0,204.1L292.0,206.5L294.0,208.9L296.0,211.4L298.0,213.9L300.0,216.4L302.0,219.0L304.0,221.7L306.0,224.4L308.0,227.1L310.0,229.9L312.0,232.7L314.0,235.6L316.0,238.5L318.0,241.4L320.0,244.4L322.0,247.4L324.0,250.5L326.0,253.5L328.0,256.6L330.0,259.8L332.0,262.9L334.0,266.0L336.0,269.2L338.0,272.4L340.0,275.5L342.0,278.7L344.0,281.8L346.0,284.9L348.0,288.1L350.0,291.1L352.0,294.2L354.0,297.2L356.0,300.2L358.0,303.1L360.0,306.0L362.0,308.9L364.0,311.7L366.0,314.4L368.0,317.1L370.0,319.7L372.0,322.3L374.0,324.8L376.0,327.2L378.0,329.6L380.0,331.9L382.0,334.2L384.0,336.4L386.0,338.6L388.0,340.7L390.0,342.7L392.0,344.7L394.0,346.6L396.0,348.5L398.0,350.3L400.0,352.1L402.0,353.8L404.0,355.5L406.0,357.1L408.0,358.7L410.0,360.2L412.0,361.7L414.0,363.1L416.0,364.5L418.0,365.9L420.0,367.2L421.0,367.8L422.0,368.5L423.0,369.1L424.0,369.7L425.0,370.3L426.0,370.9L427.0,371.5L428.0,372.0L429.0,372.6L430.0,373.1L431.0,373.7L432.0,374.2L433.0,374.7L434.0,375.3L435.0,375.8L436.0,376.3L437.0,376.7L438.0,377.2L439.0,377.7L440.0,378.2L441.0,378.6L442.0,379.1L443.0,379.5L444.0,379.9L445.0,380.3L446.0,380.8L447.0,381.2L448.0,381.6L449.0,382.0L450.0,382.3L451.0,382.7L452.0,383.1L453.0,383.5L454.0,383.8L455.0,384.2L456.0,384.5L457.0,384.8L458.0,385.2L459.0,385.5L460.0,385.8L461.0,386.1L462.0,386.4L463.0,386.7L464.0,387.0L465.0,387.3L466.0,387.6L467.0,387.8L468.0,388.1L469.0,388.4L470.0,388.6L471.0,388.9L472.0,389.1L473.0,389.3L474.0,389.6L475.0,389.8L476.0,390.0L477.0,390.3L478.0,390.5L479.0,390.7L480.0,390.9L481.0,391.1L482.0,391.3L483.0,391.5L484.0,391.7L485.0,391.9L486.0,392.0L487.0,392.2L488.0,392.4L489.0,392.5L490.0,392.7L491.0,392.9L492.0,393.0L493.0,393.2L494.0,393.3L495.0,393.5L496.0,393.6L497.0,393.8L498.0,393.9L499.0,394.0L500.0,394.2L501.0,394.3L502.0,394.4L503.0,394.6L504.0,394.7L505.0,394.8L506.0,394.9L507.0,395.0L508.0,395.2L509.0,395.3L510.0,395.4L511.0,395.5L512.0,395.6L513.0,395.7L514.0,395.8L515.0,395.9L516.0,396.0L517.0,396.1L518.0,396.2L519.0,396.3L520.0,396.4L521.0,396.5L522.0,396.6L523.0,396.7L524.0,396.8L525.0,396.9L526.0,397.0L527.0,397.1L528.0,397.2L529.0,397.3L530.0,397.4L531.0,397.5L532.0,397.6L533.0,397.7L534.0,397.8L535.0,397.9L536.0,398.0L537.0,398.2L538.0,398.3L539.0,398.4L540.0,398.5L541.0,398.6L542.0,398.7L543.0,398.9L544.0,399.0L545.0,399.1L546.0,399.3L547.0,399.4L548.0,399.5L549.0,399.6L550.0,399.7L551.0,399.8L552.0,399.9L553.0,400.0L553.9,400.1L555.0,401.3"/>
<path class="c" stroke="#de4968" d="M133.2,148.0L134.2,78.3L134.7,74.3L135.2,71.2L135.7,69.3L136.2,67.6L136.7,66.3L137.2,65.3L137.7,64.5L138.2,63.8L138.7,63.2L139.2,62.6L139.7,62.1L140.2,61.6L140.7,61.2L141.2,60.9L141.7,60.5L142.2,60.3L142.7,60.1L143.2,59.9L143.7,59.7L144.2,59.5L144.7,59.4L145.2,59.2L145.7,59.1L146.2,59.0L146.7,58.9L147.2,58.8L147.7,58.7L148.2,58.7L148.7,58.6L149.2,58.6L149.7,58.5L150.2,58.5L150.7,58.5L151.2,58.4L151.7,58.4L152.2,58.3L152.7,58.3L153.2,58.3L153.7,58.3L154.2,58.2L154.7,58.2L155.2,58.2L155.7,58.2L156.2,58.2L156.7,58.2L157.2,58.2L157.7,58.2L158.2,58.2L158.7,58.2L159.2,58.2L159.7,58.2L160.0,58.2L162.0,58.3L164.0,58.3L166.0,58.3L168.0,58.4L170.0,58.5L172.0,58.6L174.0,58.6L176.0,58.7L178.0,58.8L180.0,58.9L182.0,59.0L184.0,59.1L186.0,59.2L188.0,59.3L190.0,59.4L192.0,59.5L194.0,59.7L196.0,59.8L198.0,59.9L200.0,60.0L202.0,60.1L204.0,60.2L206.0,60.4L208.0,60.5L210.0,60.7L212.0,60.8L214.0,61.0L216.0,61.1L218.0,61.3L220.0,61.4L222.0,61.6L224.0,61.8L226.0,61.9L228.0,62.1L230.0,62.3L232.0,62.5L234.0,62.6L236.0,62.8L238.0,63.0L240.0,63.2L242.0,63.4L244.0,63.6L246.0,63.8L248.0,64.0L250.0,64.2L252.0,64.4L254.0,64.7L256.0,64.9L258.0,65.1L260.0,65.4L262.0,65.6L264.0,65.8L266.0,66.1L268.0,66.3L270.0,66.6L272.0,66.8L274.0,67.1L276.0,67.4L278.0,67.6L280.0,67.9L282.0,68.2L284.0,68.5L286.0,68.8L288.0,69.1L290.0,69.4L292.0,69.7L294.0,70.0L296.0,70.3L298.0,70.6L300.0,71.0L302.0,71.3L304.0,71.7L306.0,72.0L308.0,72.4L310.0,72.8L312.0,73.1L314.0,73.5L316.0,73.9L318.0,74.3L320.0,74.7L322.0,75.2L324.0,75.6L326.0,76.1L328.0,76.6L330.0,77.1L332.0,77.6L334.0,78.1L336.0,78.6L338.0,79.2L340.0,79.7L342.0,80.3L344.0,80.9L346.0,81.6L348.0,82.3L350.0,83.1L352.0,83.9L354.0,84.7L356.0,85.5L358.0,86.4L360.0,87.4L362.0,88.3L364.0,89.3L366.0,90.4L368.0,91.4L370.0,92.5L372.0,93.7L374.0,94.9L376.0,96.1L378.0,97.4L380.0,98.7L382.0,100.0L384.0,101.4L386.0,102.9L388.0,104.4L390.0,105.9L392.0,107.5L394.0,109.1L396.0,110.8L398.0,112.6L400.0,114.4L402.0,116.2L404.0,118.2L406.0,120.1L408.0,122.2L410.0,124.3L412.0,126.5L414.0,128.7L416.0,131.0L418.0,133.4L420.0,135.9L421.0,137.2L422.0,138.4L423.0,139.8L424.0,141.1L425.0,142.4L426.0,143.8L427.0,145.2L428.0,146.6L429.0,148.1L430.0,149.6L431.0,151.1L432.0,152.6L433.0,154.1L434.0,155.7L435.0,157.3L436.0,159.0L437.0,160.6L438.0,162.3L439.0,164.1L440.0,165.8L441.0,167.6L442.0,169.4L443.0,171.3L444.0,173.2L445.0,175.1L446.0,177.1L447.0,179.0L448.0,181.1L449.0,183.2L450.0,185.3L451.0,187.4L452.0,189.6L453.0,191.8L454.0,194.1L455.0,196.4L456.0,198.8L457.0,201.2L458.0,203.6L459.0,206.1L460.0,208.7L461.0,211.2L462.0,213.8L463.0,216.5L464.0,219.2L465.0,222.0L466.0,224.7L467.0,227.6L468.0,230.4L469.0,233.3L470.0,236.2L471.0,239.2L472.0,242.2L473.0,245.2L474.0,248.2L475.0,251.2L476.0,254.2L477.0,257.3L478.0,260.3L479.0,263.3L480.0,266.3L481.0,269.3L482.0,272.2L483.0,275.2L484.0,278.1L485.0,280.9L486.0,283.7L487.0,286.5L488.0,289.2L489.0,291.9L490.0,294.5L491.0,297.1L492.0,299.6L493.0,302.0L494.0,304.4L495.0,306.8L496.0,309.1L497.0,311.3L498.0,313.5L499.0,315.6L500.0,317.7L501.0,319.7L502.0,321.7L503.0,323.6L504.0,325.5L505.0,327.3L506.0,329.1L507.0,330.8L508.0,332.5L509.0,334.1L510.0,335.8L511.0,337.3L512.0,338.9L513.0,340.4L514.0,341.8L515.0,343.3L516.0,344.7L517.0,346.0L518.0,347.4L519.0,348.7L520.0,349.9L521.0,351.2L522.0,352.4L523.0,353.6L524.0,354.8L525.0,355.9L526.0,357.0L527.0,358.1L528.0,359.2L529.0,360.2L530.0,361.3L531.0,362.3L532.0,363.3L533.0,364.2L534.0,365.2L535.0,366.1L536.0,367.0L537.0,367.7L538.0,368.5L539.0,369.2L540.0,369.9L541.0,370.6L542.0,371.3L543.0,371.9L544.0,372.6L545.0,373.3L546.0,374.0L547.0,374.7L548.0,375.4L549.0,376.2L550.0,376.9L551.0,377.7L552.0,378.5L553.0,379.5L553.9,380.6L555.1,384.4"/>
<path class="c" stroke="#a9327d" d="M133.2,119.7L134.2,46.3L134.7,44.4L135.2,43.0L135.7,42.1L136.2,41.4L136.7,40.8L137.2,40.3L137.7,40.0L138.2,39.7L138.7,39.4L139.2,39.2L139.7,39.0L140.2,38.8L140.7,38.7L141.2,38.5L141.7,38.4L142.2,38.3L142.7,38.3L143.2,38.2L143.7,38.1L144.2,38.1L144.7,38.0L145.2,37.9L145.7,37.9L146.2,37.8L146.7,37.8L147.2,37.7L147.7,37.7L148.2,37.7L148.7,37.6L149.2,37.6L149.7,37.6L150.2,37.5L150.7,37.5L151.2,37.5L151.7,37.5L152.2,37.5L152.7,37.5L153.2,37.5L153.7,37.5L154.2,37.5L154.7,37.5L155.2,37.5L155.7,37.5L156.2,37.5L156.7,37.5L157.2,37.5L157.7,37.5L158.2,37.5L158.7,37.5L159.2,37.5L159.7,37.5L160.0,37.5L162.0,37.6L164.0,37.6L166.0,37.6L168.0,37.7L170.0,37.7L172.0,37.8L174.0,37.8L176.0,37.9L178.0,37.9L180.0,38.0L182.0,38.1L184.0,38.1L186.0,38.2L188.0,38.2L190.0,38.3L192.0,38.4L194.0,38.4L196.0,38.5L198.0,38.6L200.0,38.6L202.0,38.7L204.0,38.8L206.0,38.9L208.0,39.0L210.0,39.1L212.0,39.1L214.0,39.2L216.0,39.3L218.0,39.4L220.0,39.5L222.0,39.6L224.0,39.7L226.0,39.8L228.0,39.9L230.0,40.0L232.0,40.1L234.0,40.2L236.0,40.3L238.0,40.4L240.0,40.5L242.0,40.6L244.0,40.7L246.0,40.8L248.0,40.9L250.0,41.0L252.0,41.1L254.0,41.2L256.0,41.3L258.0,41.5L260.0,41.6L262.0,41.7L264.0,41.8L266.0,41.9L268.0,42.0L270.0,42.1L272.0,42.3L274.0,42.4L276.0,42.5L278.0,42.7L280.0,42.8L282.0,42.9L284.0,43.1L286.0,43.2L288.0,43.4L290.0,43.5L292.0,43.7L294.0,43.9L296.0,44.0L298.0,44.2L300.0,44.3L302.0,44.5L304.0,44.7L306.0,44.9L308.0,45.0L310.0,45.2L312.0,45.4L314.0,45.6L316.0,45.7L318.0,45.9L320.0,46.1L322.0,46.3L324.0,46.5L326.0,46.7L328.0,46.9L330.0,47.1L332.0,47.4L334.0,47.6L336.0,47.8L338.0,48.0L340.0,48.2L342.0,48.5L344.0,48.7L346.0,49.0L348.0,49.2L350.0,49.5L352.0,49.8L354.0,50.1L356.0,50.4L358.0,50.7L360.0,51.1L362.0,51.4L364.0,51.8L366.0,52.2L368.0,52.6L370.0,53.1L372.0,53.5L374.0,54.0L376.0,54.5L378.0,55.0L380.0,55.6L382.0,56.1L384.0,56.7L386.0,57.3L388.0,58.0L390.0,58.7L392.0,59.4L394.0,60.1L396.0,60.9L398.0,61.7L400.0,62.5L402.0,63.3L404.0,64.2L406.0,65.2L408.0,66.1L410.0,67.1L412.0,68.2L414.0,69.2L416.0,70.4L418.0,71.5L420.0,72.8L421.0,73.4L422.0,74.0L423.0,74.7L424.0,75.3L425.0,76.0L426.0,76.7L427.0,77.4L428.0,78.1L429.0,78.8L430.0,79.6L431.0,80.3L432.0,81.1L433.0,81.9L434.0,82.7L435.0,83.5L436.0,84.3L437.0,85.2L438.0,86.0L439.0,86.9L440.0,87.8L441.0,88.7L442.0,89.7L443.0,90.6L444.0,91.6L445.0,92.6L446.0,93.6L447.0,94.6L448.0,95.7L449.0,96.7L450.0,97.8L451.0,99.0L452.0,100.1L453.0,101.2L454.0,102.4L455.0,103.6L456.0,104.9L457.0,106.1L458.0,107.4L459.0,108.7L460.0,110.1L461.0,111.4L462.0,112.8L463.0,114.3L464.0,115.7L465.0,117.2L466.0,118.8L467.0,120.3L468.0,121.9L469.0,123.6L470.0,125.3L471.0,127.0L472.0,128.8L473.0,130.6L474.0,132.4L475.0,134.4L476.0,136.3L477.0,138.3L478.0,140.4L479.0,142.5L480.0,144.7L481.0,147.0L482.0,149.3L483.0,151.7L484.0,154.2L485.0,156.8L486.0,159.4L487.0,162.1L488.0,164.9L489.0,167.9L490.0,170.9L491.0,174.0L492.0,177.2L493.0,180.5L494.0,184.0L495.0,187.5L496.0,191.2L497.0,195.0L498.0,198.8L499.0,202.8L500.0,206.8L501.0,210.9L502.0,215.1L503.0,219.3L504.0,223.6L505.0,227.8L506.0,232.0L507.0,236.3L508.0,240.4L509.0,244.6L510.0,248.6L511.0,252.6L512.0,256.5L513.0,260.3L514.0,264.1L515.0,267.7L516.0,271.2L517.0,274.7L518.0,278.0L519.0,281.3L520.0,284.5L521.0,287.5L522.0,290.6L523.0,293.5L524.0,296.3L525.0,299.1L526.0,301.8L527.0,304.5L528.0,307.1L529.0,309.6L530.0,312.0L531.0,314.5L532.0,316.8L533.0,319.1L534.0,321.4L535.0,323.6L536.0,325.8L537.0,327.9L538.0,330.1L539.0,332.1L540.0,334.1L541.0,336.2L542.0,338.1L543.0,340.0L544.0,341.7L545.0,343.5L546.0,345.1L547.0,346.7L548.0,348.2L549.0,349.3L550.0,350.3L551.0,351.4L552.0,352.8L553.0,354.8L553.9,358.5L555.0,366.2"/>
<path class="c" stroke="#782281" d="M133.2,101.8L134.2,32.0L134.7,30.6L135.2,29.6L135.7,29.1L136.2,28.7L136.7,28.4L137.2,28.2L137.7,28.0L138.2,27.9L138.7,27.8L139.2,27.7L139.7,27.6L140.2,27.5L140.7,27.5L141.2,27.4L141.7,27.3L142.2,27.3L142.7,27.3L143.2,27.3L143.7,27.2L144.2,27.2L144.7,27.2L145.2,27.2L145.7,27.1L146.2,27.1L146.7,27.1L147.2,27.1L147.7,27.1L148.2,27.1L148.7,27.0L149.2,27.0L149.7,27.0L150.2,27.0L150.7,27.0L151.2,27.0L151.7,27.0L152.2,27.0L152.7,27.0L153.2,27.0L153.7,27.0L154.2,27.0L154.7,27.0L155.2,27.0L155.7,27.0L156.2,27.0L156.7,27.0L157.2,27.0L157.7,27.0L158.2,27.0L158.7,27.0L159.2,27.0L159.7,27.0L160.0,27.0L162.0,27.1L164.0,27.1L166.0,27.1L168.0,27.2L170.0,27.2L172.0,27.2L174.0,27.3L176.0,27.3L178.0,27.4L180.0,27.4L182.0,27.5L184.0,27.6L186.0,27.6L188.0,27.7L190.0,27.7L192.0,27.8L194.0,27.8L196.0,27.9L198.0,27.9L200.0,28.0L202.0,28.1L204.0,28.1L206.0,28.2L208.0,28.3L210.0,28.4L212.0,28.5L214.0,28.5L216.0,28.6L218.0,28.7L220.0,28.8L222.0,28.9L224.0,29.0L226.0,29.1L228.0,29.2L230.0,29.2L232.0,29.3L234.0,29.4L236.0,29.5L238.0,29.6L240.0,29.7L242.0,29.8L244.0,29.9L246.0,30.0L248.0,30.1L250.0,30.2L252.0,30.3L254.0,30.4L256.0,30.5L258.0,30.6L260.0,30.7L262.0,30.8L264.0,30.9L266.0,31.0L268.0,31.2L270.0,31.3L272.0,31.4L274.0,31.5L276.0,31.6L278.0,31.7L280.0,31.9L282.0,32.0L284.0,32.1L286.0,32.2L288.0,32.3L290.0,32.5L292.0,32.6L294.0,32.7L296.0,32.8L298.0,33.0L300.0,33.1L302.0,33.2L304.0,33.4L306.0,33.5L308.0,33.6L310.0,33.8L312.0,33.9L314.0,34.1L316.0,34.2L318.0,34.4L320.0,34.5L322.0,34.7L324.0,34.8L326.0,35.0L328.0,35.1L330.0,35.3L332.0,35.5L334.0,35.6L336.0,35.8L338.0,36.0L340.0,36.1L342.0,36.3L344.0,36.5L346.0,36.7L348.0,36.9L350.0,37.1L352.0,37.3L354.0,37.5L356.0,37.7L358.0,37.9L360.0,38.1L362.0,38.3L364.0,38.5L366.0,38.8L368.0,39.0L370.0,39.3L372.0,39.5L374.0,39.8L376.0,40.0L378.0,40.3L380.0,40.6L382.0,41.0L384.0,41.3L386.0,41.6L388.0,42.0L390.0,42.4L392.0,42.8L394.0,43.3L396.0,43.7L398.0,44.2L400.0,44.7L402.0,45.3L404.0,45.8L406.0,46.4L408.0,47.0L410.0,47.7L412.0,48.3L414.0,49.1L416.0,49.8L418.0,50.6L420.0,51.4L421.0,51.8L422.0,52.3L423.0,52.7L424.0,53.2L425.0,53.6L426.0,54.1L427.0,54.6L428.0,55.1L429.0,55.6L430.0,56.1L431.0,56.6L432.0,57.2L433.0,57.8L434.0,58.3L435.0,58.9L436.0,59.5L437.0,60.1L438.0,60.7L439.0,61.4L440.0,62.0L441.0,62.7L442.0,63.4L443.0,64.1L444.0,64.8L445.0,65.5L446.0,66.3L447.0,67.0L448.0,67.8L449.0,68.6L450.0,69.4L451.0,70.2L452.0,71.0L453.0,71.9L454.0,72.8L455.0,73.7L456.0,74.6L457.0,75.5L458.0,76.5L459.0,77.5L460.0,78.5L461.0,79.5L462.0,80.6L463.0,81.6L464.0,82.7L465.0,83.8L466.0,85.0L467.0,86.2L468.0,87.4L469.0,88.6L470.0,89.9L471.0,91.2L472.0,92.5L473.0,93.8L474.0,95.2L475.0,96.7L476.0,98.1L477.0,99.6L478.0,101.2L479.0,102.8L480.0,104.4L481.0,106.1L482.0,107.8L483.0,109.6L484.0,111.4L485.0,113.3L486.0,115.3L487.0,117.3L488.0,119.4L489.0,121.5L490.0,123.8L491.0,126.1L492.0,128.5L493.0,130.9L494.0,133.5L495.0,136.2L496.0,138.9L497.0,141.8L498.0,144.8L499.0,147.9L500.0,151.2L501.0,154.5L502.0,158.0L503.0,161.6L504.0,165.4L505.0,169.3L506.0,173.3L507.0,177.5L508.0,181.8L509.0,186.2L510.0,190.7L511.0,195.2L512.0,199.8L513.0,204.5L514.0,209.2L515.0,213.9L516.0,218.5L517.0,223.1L518.0,227.6L519.0,232.1L520.0,236.4L521.0,240.7L522.0,244.8L523.0,248.8L524.0,252.8L525.0,256.6L526.0,260.3L527.0,263.9L528.0,267.4L529.0,270.8L530.0,274.1L531.0,277.3L532.0,280.4L533.0,283.5L534.0,286.4L535.0,289.3L536.0,292.2L537.0,295.0L538.0,297.7L539.0,300.3L540.0,302.9L541.0,305.5L542.0,308.0L543.0,310.4L544.0,312.8L545.0,315.2L546.0,317.5L547.0,319.8L548.0,322.1L549.0,324.3L550.0,326.5L551.0,328.7L552.0,332.3L553.0,334.6L554.0,341.0L555.0,352.0"/>
<path class="c" stroke="#a8327d" d="M744.3,300.5L745.4,273.8L746.4,254.6L747.5,230.0L748.5,208.5L749.6,190.6L750.6,176.2L751.7,163.7L752.7,153.1L753.8,144.5L754.9,137.4L755.9,131.2L757.0,125.6L758.0,120.8L759.1,116.5L760.1,112.6L761.2,109.1L762.2,105.8L763.3,102.9L764.3,100.5L765.4,98.5L766.5,96.7L767.5,95.2L768.6,93.8L769.6,92.6L770.7,91.5L771.7,90.5L772.8,89.6L773.8,88.8L774.9,88.0L776.0,87.3L777.0,86.6L778.1,86.1L779.1,85.6L780.2,85.2L781.2,84.8L782.3,84.5L783.3,84.3L784.4,84.1L785.5,83.9L786.5,83.8L787.6,83.6L788.6,83.5L789.7,83.5L790.7,83.4L791.8,83.3L792.8,83.3L793.9,83.3L794.9,83.4L796.0,83.6L797.1,83.8L798.1,84.0L799.2,84.2L800.2,84.4L801.3,84.7L802.3,84.9L803.4,85.1L804.4,85.2L805.5,85.3L806.6,85.3L807.6,85.2L808.7,85.1L809.7,84.9L810.8,84.7L811.8,84.5L812.9,84.3L813.9,84.0L815.0,83.8L816.1,83.6L817.1,83.5L818.2,83.3L819.2,83.3L820.3,83.3L821.3,83.3L822.4,83.3L823.4,83.4L824.5,83.4L825.6,83.4L826.6,83.5L827.7,83.5L828.7,83.5L829.8,83.6L830.8,83.6L831.9,83.7L832.9,83.7L834.0,83.8L835.0,83.9L836.1,84.0L837.2,84.1L838.2,84.1L839.3,84.2L840.3,84.3L841.4,84.3L842.4,84.4L843.5,84.4L844.5,84.4L845.6,84.3L846.7,84.2L847.7,84.1L848.8,84.0L849.8,83.8L850.9,83.7L851.9,83.5L853.0,83.3L854.0,83.2L855.1,83.1L856.2,82.9L857.2,82.9L858.3,82.8L859.3,82.8L860.4,82.8L861.4,82.9L862.5,83.0L863.5,83.1L864.6,83.3L865.6,83.4L866.7,83.6L867.8,83.8L868.8,83.9L869.9,84.1L870.9,84.2L872.0,84.3L873.0,84.4L874.1,84.4L875.1,84.4L876.2,84.3L877.3,84.1L878.3,83.9L879.4,83.7L880.4,83.6L881.5,83.4L882.5,83.3L883.6,83.3L884.6,83.4L885.7,83.5L886.8,83.7L887.8,83.9L888.9,84.1L889.9,84.2L891.0,84.4L892.0,84.4L893.1,84.4L894.1,84.3L895.2,84.3L896.2,84.2L897.3,84.1L898.4,84.0L899.4,83.9L900.5,83.8L901.5,83.7L902.6,83.6L903.6,83.4L904.7,83.3L905.7,83.3L906.8,83.2L907.9,83.1L908.9,83.1L910.0,83.1L911.0,83.2L912.1,83.4L913.1,83.7L914.2,84.0L915.2,84.3L916.3,84.5L917.4,84.7L918.4,84.7L919.5,84.7L920.5,84.6L921.6,84.5L922.6,84.3L923.7,84.1L924.7,83.9L925.8,83.7L926.8,83.6L927.9,83.5L929.0,83.4L930.0,83.4L931.1,83.6L932.1,83.8L933.2,84.0L934.2,84.2L935.3,84.4L936.3,84.4L937.4,84.3L938.5,84.1L939.5,83.9L940.6,83.6L941.6,83.3L942.7,83.1L943.7,83.0L944.8,82.9L945.8,83.0L946.9,83.2L948.0,83.4L949.0,83.8L950.1,84.1L951.1,84.4L952.2,84.6L953.2,84.7L954.3,84.7L955.3,84.6L956.4,84.4L957.5,84.2L958.5,83.9L959.6,83.7L960.6,83.5L961.7,83.3L962.7,83.3L963.8,83.3L964.8,83.3L965.9,83.3L966.9,83.3L968.0,83.3L969.1,83.3L970.1,83.3L971.2,83.3L972.2,83.3L973.3,83.3L974.3,83.3L975.4,83.4L976.4,83.6L977.5,83.8L978.6,84.2L979.6,84.5L980.7,84.8L981.7,85.0L982.8,85.1L983.8,85.1L984.9,84.8L985.9,84.5L987.0,84.0L988.1,83.6L989.1,83.2L990.2,82.8L991.2,82.6L992.3,82.6L993.3,82.6L994.4,82.7L995.4,82.8L996.5,83.0L997.5,83.2L998.6,83.4L999.7,83.6L1000.7,83.7L1001.8,83.9L1002.8,84.0L1003.9,84.0L1004.9,83.9L1006.0,83.8L1007.0,83.5L1008.1,83.3L1009.2,83.0L1010.2,82.9L1011.3,82.9L1012.3,83.0L1013.4,83.1L1014.4,83.2L1015.5,83.4L1016.5,83.5L1017.6,83.7L1018.7,83.9L1019.7,84.1L1020.8,84.2L1021.8,84.3L1022.9,84.4L1023.9,84.4L1025.0,84.3L1026.0,84.1L1027.1,83.8L1028.1,83.5L1029.2,83.2L1030.3,83.1L1031.3,83.1L1032.4,83.0L1033.4,83.0L1034.5,83.0L1035.5,82.9L1036.6,82.9L1037.6,82.9L1038.7,82.9L1039.8,82.9L1040.8,82.9L1041.9,83.0L1042.9,83.0L1044.0,83.2L1045.0,83.3L1046.1,83.5L1047.1,83.6L1048.2,83.8L1049.3,84.0L1050.3,84.2L1051.4,84.4L1052.4,84.6L1053.5,84.7L1054.5,84.8L1055.6,84.9L1056.6,84.9L1057.7,84.8L1058.7,84.6L1059.8,84.4L1060.9,84.0L1061.9,83.7L1063.0,83.3L1064.0,83.1L1065.1,82.9L1066.1,82.9L1067.2,83.0L1068.2,83.2L1069.3,83.4L1070.4,83.3L1071.4,84.0L1072.5,83.3L1073.5,84.0L1074.6,83.6L1075.6,83.7L1076.7,83.9L1077.7,83.6L1078.8,83.4L1079.9,83.3L1080.9,83.2L1082.0,83.8L1083.0,83.5L1084.1,83.3L1085.1,84.0L1086.2,83.4L1087.2,83.5L1088.3,83.4L1089.4,83.7L1090.4,83.7L1091.5,83.7L1092.5,83.4L1093.6,83.4L1094.6,83.4L1095.7,83.4L1096.7,83.2L1097.8,83.3L1098.8,84.1L1099.9,84.1L1101.0,83.3L1102.0,83.1L1103.1,83.3L1104.1,83.8L1105.2,83.9L1106.2,83.1L1107.3,83.7L1108.3,83.1L1109.4,83.6L1110.5,83.7L1111.5,84.1L1112.6,83.4L1113.6,83.9L1114.7,84.0L1115.7,84.0L1116.8,83.1L1117.8,83.6L1118.9,84.1L1120.0,83.5L1121.0,83.9L1122.1,83.6L1123.1,83.9L1124.2,83.6L1125.2,83.1L1126.3,83.2L1127.3,83.2L1128.4,83.4L1129.4,84.1L1130.5,83.7L1131.6,83.9L1132.6,83.7L1133.7,83.7L1134.7,83.9L1135.8,84.0L1136.8,84.0L1137.9,83.9L1138.9,83.2L1140.0,83.5L1141.1,83.1L1142.1,83.6L1143.2,83.9L1144.2,83.2L1145.3,83.3L1146.3,83.5L1147.4,83.3L1148.4,83.9L1149.5,83.5L1150.6,83.7L1151.6,83.6L1152.7,83.7L1153.7,84.0L1154.8,84.0L1155.8,83.2L1156.9,83.9L1157.9,83.4L1159.0,83.2L1160.0,83.5L1161.1,83.6L1162.2,84.1L1163.2,83.5"/>
<path class="c" stroke="#a8327d" style="stroke-linejoin:bevel" d="M1385.3,379.7L1387.7,379.9L1392.0,379.7L1396.2,378.5L1400.4,378.2L1404.7,379.1L1408.9,379.1L1413.2,378.2L1417.4,377.2L1421.6,377.0L1425.9,377.0L1430.1,377.4L1434.4,378.0L1438.6,378.6L1442.8,378.2L1447.1,377.7L1451.3,377.3L1455.5,377.4L1459.8,377.5L1464.0,377.3L1468.3,376.8L1472.5,377.8L1476.7,378.3L1481.0,377.9L1485.2,380.1L1489.5,379.3L1493.7,378.6L1497.9,378.2L1502.2,377.9L1506.4,377.8L1510.6,378.7L1514.9,379.7L1519.1,377.8L1523.4,377.3L1527.6,377.1L1531.8,377.5L1536.1,377.8L1540.3,378.2L1544.6,378.0L1548.8,377.9L1553.0,373.9L1557.3,366.0L1561.5,348.6L1565.7,317.1L1570.0,267.4L1574.2,217.1L1578.5,166.8L1582.7,116.5L1586.9,66.2L1591.2,15.9L1595.4,71.8L1599.7,127.7L1603.9,183.6L1608.1,239.5L1612.4,295.0L1616.6,340.7L1620.9,364.4L1625.1,375.1L1629.3,374.9L1633.6,374.7L1637.8,375.4L1642.0,376.1L1646.3,376.5L1650.5,376.8L1654.8,377.0L1659.0,376.4L1663.2,375.7L1667.5,375.1L1671.7,375.3L1676.0,375.4L1680.2,375.6L1684.4,376.3L1688.7,377.0L1692.9,377.6L1697.1,377.8L1701.4,377.9L1705.6,378.1L1709.9,377.8L1714.1,377.1L1718.3,378.0L1722.6,378.9L1726.8,378.7L1731.1,378.3L1735.3,377.9L1739.5,376.9L1743.8,375.9L1748.0,377.5L1752.2,377.9L1756.5,378.2L1760.7,378.5L1765.0,377.4L1769.2,376.2L1773.4,376.5L1777.7,376.8L1781.9,377.6L1786.2,376.7L1790.4,376.5L1794.6,377.4L1798.9,378.2L1801.3,376.8"/>
<g class="ax">
<rect x="112.00" y="1.90" width="464.30" height="420.90"/>
<rect x="722.10" y="1.90" width="464.10" height="420.90"/>
<rect x="1362.30" y="1.90" width="462.00" height="420.90"/>
<rect x="112.10" y="548.30" width="464.20" height="422.70"/>
<rect x="722.10" y="548.30" width="464.10" height="422.70"/>
<rect x="1362.30" y="548.30" width="462.00" height="422.70"/>
<path d="M133.20,422.80v10.30"/>
<path d="M343.60,422.80v10.30"/>
<path d="M555.05,422.80v10.30"/>
<path d="M112.00,422.80h-10.30"/>
<path d="M112.00,293.29h-10.30"/>
<path d="M112.00,163.78h-10.30"/>
<path d="M112.00,34.28h-10.30"/>
<path d="M744.00,422.80v10.30"/>
<path d="M954.07,422.80v10.30"/>
<path d="M1165.20,422.80v10.30"/>
<path d="M722.10,406.61h-10.30"/>
<path d="M722.10,244.73h-10.30"/>
<path d="M722.10,82.84h-10.30"/>
<path d="M1383.49,422.80v10.30"/>
<path d="M1591.18,422.80v10.30"/>
<path d="M1803.11,422.80v10.30"/>
<path d="M1362.30,15.90h-10.30"/>
<path d="M1362.30,192.73h-10.30"/>
<path d="M1362.30,369.57h-10.30"/>
<path d="M165.06,971.00v10.30"/>
<path d="M112.10,922.23h-10.30"/>
<path d="M344.20,971.00v10.30"/>
<path d="M112.10,759.65h-10.30"/>
<path d="M522.74,971.00v10.30"/>
<path d="M112.10,597.07h-10.30"/>
<path d="M775.05,971.00v10.30"/>
<path d="M722.10,922.23h-10.30"/>
<path d="M954.15,971.00v10.30"/>
<path d="M722.10,759.65h-10.30"/>
<path d="M1132.65,971.00v10.30"/>
<path d="M722.10,597.07h-10.30"/>
<path d="M1415.01,971.00v10.30"/>
<path d="M1362.30,922.23h-10.30"/>
<path d="M1593.30,971.00v10.30"/>
<path d="M1362.30,759.65h-10.30"/>
<path d="M1770.99,971.00v10.30"/>
<path d="M1362.30,597.07h-10.30"/>
<rect x="1858.00" y="548.50" width="22.70" height="422.50" fill="url(#cbar)"/>
<path d="M1880.70,971.00h10.30"/>
<path d="M1880.70,759.75h10.30"/>
<path d="M1880.70,548.50h10.30"/>
</g>
<text><tspan x="124.04" y="465.40" font-size="34.7">1</tspan></text>
<text><tspan x="317.47" y="465.40" font-size="34.7">200</tspan></text>
<text><tspan x="529.35" y="465.40" font-size="34.7">400</tspan></text>
<text><tspan x="76.32" y="433.90" font-size="34.7">0</tspan></text>
<text><tspan x="58.97" y="304.39" font-size="34.7">20</tspan></text>
<text><tspan x="58.97" y="174.88" font-size="34.7">40</tspan></text>
<text><tspan x="58.97" y="45.38" font-size="34.7">60</tspan></text>
<text><tspan x="734.84" y="465.40" font-size="34.7">1</tspan></text>
<text><tspan x="927.95" y="465.40" font-size="34.7">200</tspan></text>
<text><tspan x="1139.50" y="465.40" font-size="34.7">400</tspan></text>
<text><tspan x="686.42" y="417.71" font-size="34.7">0</tspan></text>
<text><tspan x="660.43" y="255.83" font-size="34.7">0.5</tspan></text>
<text><tspan x="687.18" y="93.94" font-size="34.7">1</tspan></text>
<text><tspan x="1374.33" y="465.40" font-size="34.7">1</tspan></text>
<text><tspan x="1573.48" y="465.40" font-size="34.7">50</tspan></text>
<text><tspan x="1776.22" y="465.40" font-size="34.7">100</tspan></text>
<text><tspan x="1298.95" y="28.20" font-size="34.7">10</tspan><tspan x="1332.86" y="14.10" font-size="22">0</tspan></text>
<text><tspan x="1275.35" y="205.03" font-size="34.7">10</tspan><tspan x="1312.71" y="195.39" font-size="30">−</tspan><tspan x="1332.37" y="190.93" font-size="22">1</tspan></text>
<text><tspan x="1275.35" y="381.87" font-size="34.7">10</tspan><tspan x="1312.71" y="372.23" font-size="30">−</tspan><tspan x="1332.83" y="367.77" font-size="22">2</tspan></text>
<text><tspan x="141.95" y="1013.60" font-size="34.7">-10</tspan></text>
<text><tspan x="47.52" y="933.33" font-size="34.7">-10</tspan></text>
<text><tspan x="335.52" y="1013.60" font-size="34.7">0</tspan></text>
<text><tspan x="76.42" y="770.75" font-size="34.7">0</tspan></text>
<text><tspan x="504.52" y="1013.60" font-size="34.7">10</tspan></text>
<text><tspan x="59.07" y="608.17" font-size="34.7">10</tspan></text>
<text><tspan x="751.94" y="1013.60" font-size="34.7">-10</tspan></text>
<text><tspan x="657.52" y="933.33" font-size="34.7">-10</tspan></text>
<text><tspan x="945.48" y="1013.60" font-size="34.7">0</tspan></text>
<text><tspan x="686.42" y="770.75" font-size="34.7">0</tspan></text>
<text><tspan x="1114.44" y="1013.60" font-size="34.7">10</tspan></text>
<text><tspan x="669.07" y="608.17" font-size="34.7">10</tspan></text>
<text><tspan x="1391.90" y="1013.60" font-size="34.7">-10</tspan></text>
<text><tspan x="1297.72" y="933.33" font-size="34.7">-10</tspan></text>
<text><tspan x="1584.62" y="1013.60" font-size="34.7">0</tspan></text>
<text><tspan x="1326.62" y="770.75" font-size="34.7">0</tspan></text>
<text><tspan x="1752.78" y="1013.60" font-size="34.7">10</tspan></text>
<text><tspan x="1309.27" y="608.17" font-size="34.7">10</tspan></text>
<text><tspan x="1896.68" y="982.10" font-size="34.7">0</tspan></text>
<text><tspan x="1896.68" y="770.85" font-size="34.7">0.5</tspan></text>
<text><tspan x="1896.55" y="559.60" font-size="34.7">1</tspan></text>
<text><tspan x="334.92" y="509.20" font-size="42.5" class="i">ℓ</tspan></text>
<text><tspan x="945.02" y="509.20" font-size="42.5" class="i">ℓ</tspan></text>
<text><tspan x="1584.22" y="509.20" font-size="42.5" class="i">ℓ</tspan></text>
<text transform="rotate(-90)"><tspan x="-206.83" y="46.30" font-size="26" class="i">ℓ</tspan></text><text transform="translate(38.60,227.04) rotate(-90) scale(1.150,1)" font-size="40" class="i">n</text>
<text transform="rotate(-90)"><tspan x="-213.56" y="638.80" font-size="39" class="i">φ</tspan><tspan x="-188.73" y="646.90" font-size="26" class="i">ℓ</tspan></text><text transform="translate(638.80,246.88) rotate(-90) scale(1.150,1)" font-size="43">Δ</text>
<text transform="rotate(-90)"><tspan x="-246.92" y="1254.60" font-size="43.2">|</tspan><tspan x="-235.42" y="1254.00" font-size="40" class="i">g</tspan><tspan x="-216.99" y="1237.60" font-size="27">(</tspan><tspan x="-209.01" y="1237.50" font-size="24">1</tspan><tspan x="-197.80" y="1237.60" font-size="27">)</tspan><tspan x="-216.89" y="1261.90" font-size="24" class="i">k</tspan><tspan x="-205.91" y="1262.30" font-size="24">,</tspan><tspan x="-202.71" y="1262.10" font-size="25" class="i">ℓ</tspan><tspan x="-186.52" y="1254.60" font-size="43.2">|</tspan></text>
<text><tspan x="514.15" y="54.10" font-size="42">(</tspan><tspan x="526.46" y="53.50" font-size="38">a</tspan><tspan x="545.16" y="54.10" font-size="42">)</tspan></text>
<text><tspan x="744.85" y="53.90" font-size="42">(</tspan><tspan x="758.50" y="53.30" font-size="38">b</tspan><tspan x="777.86" y="53.90" font-size="42">)</tspan></text>
<text><tspan x="1766.65" y="55.20" font-size="42">(</tspan><tspan x="1778.95" y="54.60" font-size="38">c</tspan><tspan x="1795.46" y="55.20" font-size="42">)</tspan></text>
<text><tspan x="140.15" y="602.10" font-size="42">(</tspan><tspan x="152.73" y="601.50" font-size="38">d</tspan><tspan x="173.46" y="602.10" font-size="42">)</tspan></text>
<text><tspan x="750.15" y="602.10" font-size="42">(</tspan><tspan x="762.52" y="601.50" font-size="38">e</tspan><tspan x="780.46" y="602.10" font-size="42">)</tspan></text>
<text><tspan x="1390.35" y="602.10" font-size="42">(</tspan><tspan x="1402.83" y="601.50" font-size="38">f</tspan><tspan x="1416.36" y="602.10" font-size="42">)</tspan></text>
<text><tspan x="1396.11" y="52.70" font-size="34.5" class="i">k</tspan><tspan x="1452.52" y="52.70" font-size="36" class="i">L</tspan><tspan x="1473.00" y="60.20" font-size="50">/</tspan><tspan x="1487.94" y="52.70" font-size="35.5">2</tspan></text><text transform="translate(1416.34,54.60) scale(1.545,1)" font-size="32">=</text>
<text><tspan x="486.26" y="590.30" font-size="40.8" class="i">ℓ</tspan><tspan x="546.15" y="589.80" font-size="37">1</tspan></text><text transform="translate(509.29,592.50) scale(1.510,1)" font-size="36">=</text>
<text><tspan x="1060.66" y="590.30" font-size="40.8" class="i">ℓ</tspan><tspan x="1120.77" y="589.80" font-size="37">200</tspan></text><text transform="translate(1083.29,592.50) scale(1.510,1)" font-size="36">=</text>
<text><tspan x="1698.76" y="590.30" font-size="40.8" class="i">ℓ</tspan><tspan x="1759.78" y="589.80" font-size="37">400</tspan></text><text transform="translate(1721.39,592.50) scale(1.510,1)" font-size="36">=</text>
<text><tspan x="292.69" y="1057.70" font-size="42">R</tspan><tspan x="321.54" y="1057.70" font-size="40">e</tspan><tspan x="340.97" y="1058.50" font-size="44">(</tspan><tspan x="354.88" y="1057.70" font-size="41" class="i">α</tspan><tspan x="379.68" y="1058.50" font-size="44">)</tspan></text>
<text transform="rotate(-90)"><tspan x="-812.32" y="29.80" font-size="42">I</tspan><tspan x="-797.02" y="29.80" font-size="39">m</tspan><tspan x="-762.13" y="30.60" font-size="44">(</tspan><tspan x="-749.02" y="29.80" font-size="41" class="i">α</tspan><tspan x="-724.52" y="30.60" font-size="44">)</tspan></text>
<text><tspan x="902.69" y="1057.70" font-size="42">R</tspan><tspan x="931.54" y="1057.70" font-size="40">e</tspan><tspan x="950.97" y="1058.50" font-size="44">(</tspan><tspan x="964.88" y="1057.70" font-size="41" class="i">α</tspan><tspan x="989.68" y="1058.50" font-size="44">)</tspan></text>
<text transform="rotate(-90)"><tspan x="-812.32" y="639.80" font-size="42">I</tspan><tspan x="-797.02" y="639.80" font-size="39">m</tspan><tspan x="-762.13" y="640.60" font-size="44">(</tspan><tspan x="-749.02" y="639.80" font-size="41" class="i">α</tspan><tspan x="-724.52" y="640.60" font-size="44">)</tspan></text>
<text><tspan x="1542.89" y="1057.70" font-size="42">R</tspan><tspan x="1571.74" y="1057.70" font-size="40">e</tspan><tspan x="1591.17" y="1058.50" font-size="44">(</tspan><tspan x="1605.08" y="1057.70" font-size="41" class="i">α</tspan><tspan x="1629.88" y="1058.50" font-size="44">)</tspan></text>
<text transform="rotate(-90)"><tspan x="-812.32" y="1280.00" font-size="42">I</tspan><tspan x="-797.02" y="1280.00" font-size="39">m</tspan><tspan x="-762.13" y="1280.80" font-size="44">(</tspan><tspan x="-749.02" y="1280.00" font-size="41" class="i">α</tspan><tspan x="-724.52" y="1280.80" font-size="44">)</tspan></text>
<text transform="rotate(-90)"><tspan x="-815.68" y="1979.00" font-size="40">˜</tspan><tspan x="-795.93" y="1993.30" font-size="44">(</tspan><tspan x="-783.22" y="1992.50" font-size="41" class="i">α</tspan><tspan x="-753.56" y="1992.50" font-size="41">,</tspan><tspan x="-744.22" y="1992.50" font-size="41" class="i">α</tspan><tspan x="-717.81" y="1978.00" font-size="30">*</tspan><tspan x="-698.72" y="1993.30" font-size="44">)</tspan></text><text transform="translate(1992.50,832.69) rotate(-90) scale(0.950,1)" font-size="43" class="i">W</text>
</svg>
</body></html>
